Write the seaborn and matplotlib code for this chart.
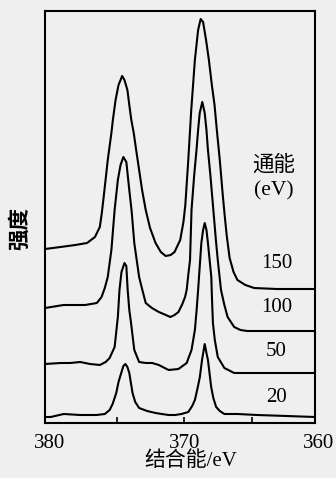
import matplotlib
matplotlib.use("Agg")
import matplotlib.pyplot as plt
import pandas as pd
import seaborn as sns

# Ag 3d spectra recorded at four pass energies (binding energy in eV, intensity in a.u.)
pass_energies = ["150", "100", "50", "20"]

be_150 = [380.35, 379.2, 378.1, 377.23, 376.64, 376.28, 376.13, 375.91, 375.69, 375.42,
          375.31, 375.11, 374.89, 374.62, 374.45, 374.23, 374.09, 373.94, 373.76, 373.58,
          373.36, 373.14, 372.87, 372.55, 372.14, 371.75, 371.39, 371.02, 370.73, 370.31,
          370.07, 369.93, 369.71, 369.49, 369.22, 368.98, 368.79, 368.61, 368.39, 368.18,
          367.96, 367.76, 367.59, 367.37, 367.15, 367.01, 366.86, 366.64, 366.35, 366.06,
          365.47, 364.82, 363.14, 360.3]
int_150 = [174, 176, 178, 180, 186, 196, 210, 236, 263, 290,
           303, 323, 338, 347, 343, 333, 318, 303, 290, 273,
           253, 233, 213, 195, 180, 171, 167, 168, 171, 183,
           201, 218, 263, 313, 363, 393, 404, 401, 383, 363,
           338, 318, 293, 263, 228, 208, 188, 165, 151, 143,
           138, 135, 134, 134]

be_100 = [380.35, 378.98, 377.37, 376.50, 376.15, 375.91, 375.69, 375.42, 375.18, 374.94,
          374.74, 374.53, 374.31, 374.09, 373.91, 373.72, 373.36, 373.12, 372.87, 372.41,
          371.90, 371.46, 371.04, 370.73, 370.44, 370.15, 369.95, 369.83, 369.71, 369.58,
          369.47, 369.27, 369.10, 368.98, 368.86, 368.67, 368.49, 368.36, 368.25, 368.07,
          367.88, 367.66, 367.52, 367.28, 367.03, 366.79, 366.30, 365.84, 365.33, 360.3]
int_100 = [115, 118, 118, 120, 126, 135, 146, 173, 213, 243,
           258, 266, 261, 233, 211, 180, 146, 133, 120, 115,
           111, 108.5, 106, 108, 111, 119, 126, 133, 148, 163,
           213, 248, 273, 293, 310, 321, 310, 293, 273, 248,
           218, 183, 163, 133, 118, 106, 96, 93, 92, 92]

be_50 = [380.35, 379.2, 378.47, 377.74, 377.0, 376.28, 375.84, 375.55, 375.18, 374.94,
         374.82, 374.67, 374.45, 374.31, 374.21, 374.09, 373.96, 373.72, 373.36, 372.85,
         372.39, 371.90, 371.17, 370.44, 369.83, 369.47, 369.22, 369.09, 368.98, 368.74,
         368.61, 368.49, 368.36, 368.25, 368.00, 367.96, 367.88, 367.74, 367.52, 367.03,
         366.30, 365.33, 360.3]
int_50 = [59, 60, 60, 61, 59, 58, 61, 65, 76, 106,
          133, 151, 160, 157, 133, 113, 100, 73, 61, 60,
          60, 58, 53, 54, 60, 73, 93, 113, 133, 180,
          193, 200, 193, 180, 146, 128, 100, 83, 66, 55,
          50, 50, 50]

be_20 = [380.35, 379.93, 378.96, 377.74, 376.52, 375.91, 375.55, 375.33, 375.06, 374.89,
         374.69, 374.53, 374.38, 374.23, 374.09, 373.85, 373.65, 373.36, 372.77, 372.14,
         371.68, 371.17, 370.68, 370.22, 369.71, 369.42, 369.22, 369.05, 368.85, 368.69,
         368.49, 368.36, 368.25, 368.01, 367.85, 367.64, 367.37, 367.03, 366.06, 364.60,
         362.41, 360.3]
int_20 = [6, 6, 9, 8, 8, 9, 13, 19, 30, 41,
          50, 57, 59, 56, 50, 30, 21, 15, 12, 10,
          9, 8, 8, 9, 11, 17, 23, 33, 46, 63,
          79, 70, 63, 36, 25, 16, 12, 9, 9, 8,
          7, 6]

x_ticks = [375, 370, 365]
x_tick_labels = [380, 370, 360]

frames = []
for name, be, inten in [("150", be_150, int_150), ("100", be_100, int_100),
                        ("50", be_50, int_50), ("20", be_20, int_20)]:
    frames.append(pd.DataFrame({"be": be, "intensity": inten, "pass": name}))
df = pd.concat(frames, ignore_index=True)

sns.set_theme(style="white")
plt.rcParams["font.family"] = ["Liberation Serif", "Noto Sans CJK SC"]
paper = "#efefef"

fig = plt.figure(figsize=(3.36, 4.78), dpi=100, facecolor=paper)
ax = fig.add_axes([45 / 336, 1 - 423 / 478, 270 / 336, 412 / 478])
ax.set_facecolor(paper)

sns.lineplot(data=df, x="be", y="intensity", units="pass", estimator=None,
             color="black", linewidth=1.5, sort=False, ax=ax, legend=False)

ax.set_xlim(380.35, 360.3)
ax.set_ylim(0, 412)

for s in ax.spines.values():
    s.set_color("black")
    s.set_linewidth(1.5)

ax.set_yticks([])
ax.set_xticks(x_ticks)
ax.set_xticklabels([])
ax.tick_params(axis="x", direction="in", length=4.5, width=1.2, color="black", bottom=True)

for v in x_tick_labels:
    ax.annotate(str(v), xy=(v, 0), xycoords=("data", "axes fraction"),
                xytext=(0, -18), textcoords="offset points",
                ha="center", va="baseline", fontsize=15, color="black",
                annotation_clip=False)

# pass-energy labels beside each trace
label_pos = {"150": (363.13, 159), "100": (363.13, 116), "50": (363.2, 71), "20": (363.13, 26)}
for name in pass_energies:
    x, y = label_pos[name]
    ax.text(x, y, name, ha="center", va="center", fontsize=15, color="black")
ax.text(363.35, 258, "通能", ha="center", va="center", fontsize=15.5, color="black")
ax.text(363.35, 232, "(eV)", ha="center", va="center", fontsize=15.5, color="black")

ax.set_xlabel("结合能/eV", fontsize=15, color="black")
ax.xaxis.label.set_va("center")
ax.xaxis.set_label_coords(0.541, -0.093)
ax.set_ylabel("强度", fontsize=15.5, color="black", fontweight="bold")
ax.yaxis.label.set_va("center")
ax.yaxis.set_label_coords(-0.089, 0.471)

fig.savefig("out.png", dpi=100, facecolor=paper)
